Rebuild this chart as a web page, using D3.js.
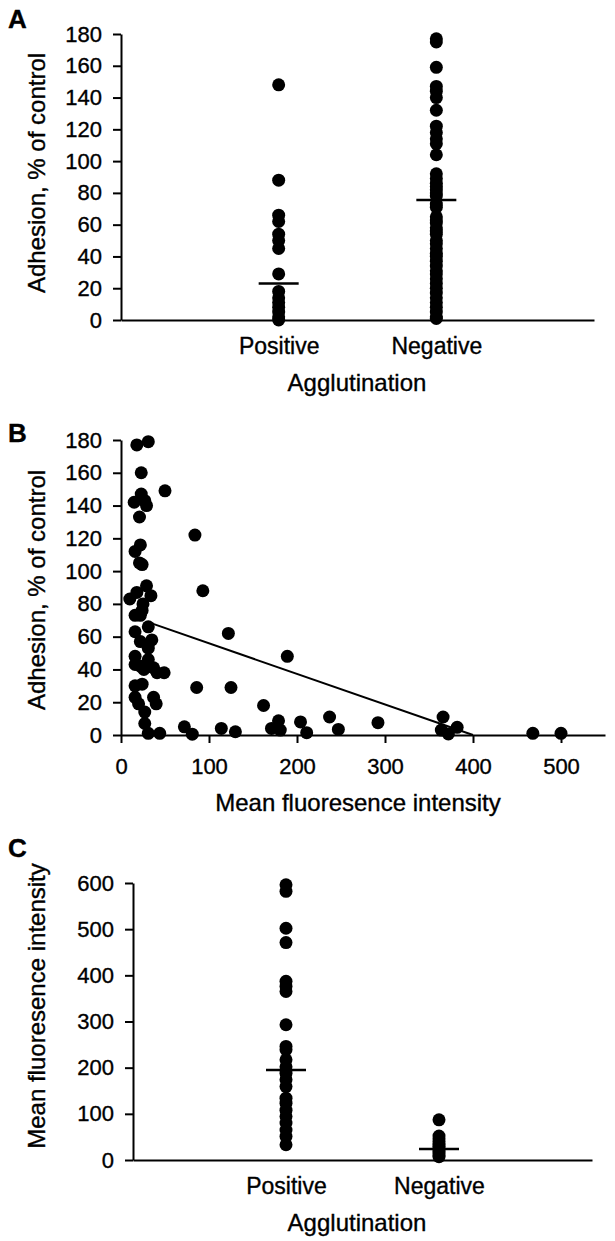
<!DOCTYPE html>
<html>
<head>
<meta charset="utf-8">
<script src="https://cdn.jsdelivr.net/npm/d3@7"></script>
<style>
  html, body { margin: 0; padding: 0; background: #fff; }
</style>
</head>
<body>
<script>
// ---- data ----
const categories = ["Positive", "Negative"];

// panel A: adhesion (% of control) by agglutination
const adhesionPositive = [148, 88, 66, 62, 54, 50, 45, 29, 18, 14, 11, 8, 5, 2, 0];
const adhesionNegative = [177, 175, 159, 147, 144, 140, 132, 122, 118, 114, 111, 104,
  92, 89, 86, 84, 82, 80, 78, 73, 71, 65, 63, 61, 58, 56, 54, 50, 48, 45, 42, 40,
  37, 34, 31, 29, 26, 23, 20, 17, 14, 11, 8, 5, 2, 1];
const adhesionCentre = [23, 75.5];

// panel B: adhesion vs mean fluorescence intensity
const scatterMfi = [18, 31, 23, 50, 15, 23, 27, 29, 21, 84, 22, 16, 21, 24, 93, 10, 18, 29,
  34, 25, 16, 22, 24, 31, 122, 16, 35, 22, 31, 16, 31, 16, 37, 41, 49, 22, 26, 86, 125,
  16, 24, 16, 37, 40, 20, 27, 27, 31, 44, 72, 81, 114, 130, 162, 171, 179, 181, 189,
  204, 211, 237, 247, 292, 366, 364, 372, 382, 468, 500];
const scatterAdhesion = [177, 179, 160, 149, 142, 147, 143, 140, 133, 122, 116, 112, 105,
  104, 88, 83, 87, 91, 85, 80, 73, 73, 76, 66, 62, 63, 58, 57, 53, 48, 46, 43, 41, 38,
  38, 42, 40, 29, 29, 30, 31, 23, 23, 19, 19, 14, 7, 1, 1, 5, 0.5, 4, 2, 18, 4, 8.7, 3,
  48, 8, 1.4, 11, 3.4, 7.5, 11, 3, 0.6, 4.7, 1, 1];
const fitIntercept = 74.6;
const fitSlope = -0.1865;
const fitRange = [30, 400];

// panel C: mean fluorescence intensity by agglutination
const mfiPositive = [596, 582, 502, 471, 387, 376, 365, 293, 246, 239, 217, 202, 188, 174,
  159, 134, 123, 108, 94, 80, 65, 51, 33];
const mfiNegative = [87, 52, 46, 40, 35, 30, 25, 20, 15, 10, 7];
const mfiCentre = [195, 24];

const FONT = "'Liberation Sans', Arial, Helvetica, sans-serif";

const svg = d3.select("body").append("svg")
    .attr("width", 615)
    .attr("height", 1241)
    .style("background", "#fff");

function inkText(sel){
    // scanned print looks a touch heavier than a clean render
    sel.attr("fill", "#000").attr("stroke", "#000").attr("stroke-width", 0.35);
}

function styleAxis(g, size){
    g.attr("font-family", FONT).attr("font-size", size);
    g.selectAll("path, line").attr("stroke", "#000").attr("stroke-width", 2);
    inkText(g.selectAll("text"));
    return g;
}

function label(txt, x, y, size, opts){
    opts = opts || {};
    let t = svg.append("text")
        .attr("font-family", FONT)
        .attr("font-size", size)
        .attr("text-anchor", opts.anchor || "middle")
        .text(txt);
    inkText(t);
    if(opts.bold) t.attr("font-weight", "bold");
    if(opts.rotate){
        t.attr("transform", `translate(${x},${y}) rotate(-90)`);
    } else {
        t.attr("x", x).attr("y", y);
    }
    return t;
}

function dots(xs, ys){
    svg.append("g").selectAll("circle")
        .data(xs.map((x, i) => [x, ys[i]]))
        .join("circle")
        .attr("cx", d => d[0])
        .attr("cy", d => d[1])
        .attr("r", 6.5)
        .attr("fill", "#000");
}

function stripPanel(opt){
    const x = d3.scalePoint().domain(categories).range(opt.xRange).padding(1);
    const y = d3.scaleLinear().domain(opt.yDomain).range(opt.yRange);
    styleAxis(svg.append("g")
        .attr("transform", `translate(0,${opt.yRange[0]})`)
        .call(d3.axisBottom(x).tickSize(0).tickPadding(18).tickSizeOuter(0)), 23);
    styleAxis(svg.append("g")
        .attr("transform", `translate(${opt.xRange[0]},0)`)
        .call(d3.axisLeft(y).tickValues(opt.ticks).tickSize(8).tickPadding(11).tickSizeOuter(0)), 22);
    opt.series.forEach((vals, i) => {
        dots(vals.map(() => x(categories[i])), vals.map(y));
    });
    svg.append("g").selectAll("line")
        .data(opt.centre)
        .join("line")
        .attr("x1", (d, i) => x(categories[i]) - 20)
        .attr("x2", (d, i) => x(categories[i]) + 20)
        .attr("y1", d => y(d))
        .attr("y2", d => y(d))
        .attr("stroke", "#000")
        .attr("stroke-width", 2.5);
}

// ---- A ----
label("A", 8, 28, 26, {anchor: "start", bold: true});
stripPanel({
    xRange: [121, 594], yDomain: [0, 180], yRange: [320, 34],
    ticks: d3.range(0, 181, 20),
    series: [adhesionPositive, adhesionNegative],
    centre: adhesionCentre
});
label("Adhesion, % of control", 45, 173, 24, {rotate: true});
label("Agglutination", 357, 391, 24);

// ---- B ----
label("B", 8, 442, 26, {anchor: "start", bold: true});
const xB = d3.scaleLinear().domain([0, 550]).range([121, 605]);
const yB = d3.scaleLinear().domain([0, 180]).range([735, 440]);
styleAxis(svg.append("g")
    .attr("transform", "translate(0,735)")
    .call(d3.axisBottom(xB).tickValues(d3.range(0, 501, 100)).tickSize(8).tickPadding(15).tickSizeOuter(0)), 22);
styleAxis(svg.append("g")
    .attr("transform", "translate(121,0)")
    .call(d3.axisLeft(yB).tickValues(d3.range(0, 181, 20)).tickSize(8).tickPadding(11).tickSizeOuter(0)), 22);
dots(scatterMfi.map(xB), scatterAdhesion.map(yB));
svg.append("path")
    .datum(fitRange)
    .attr("d", d3.line().x(d => xB(d)).y(d => yB(fitIntercept + fitSlope * d)))
    .attr("stroke", "#000")
    .attr("stroke-width", 2)
    .attr("fill", "none");
label("Adhesion, % of control", 45, 590, 24, {rotate: true});
label("Mean fluoresence intensity", 358, 811, 24);

// ---- C ----
label("C", 8, 857, 26, {anchor: "start", bold: true});
stripPanel({
    xRange: [133, 592], yDomain: [0, 600], yRange: [1160, 883],
    ticks: d3.range(0, 601, 100),
    series: [mfiPositive, mfiNegative],
    centre: mfiCentre
});
label("Mean fluoresence intensity", 45, 1006, 24, {rotate: true});
label("Agglutination", 357, 1231, 24);
</script>
</body>
</html>
